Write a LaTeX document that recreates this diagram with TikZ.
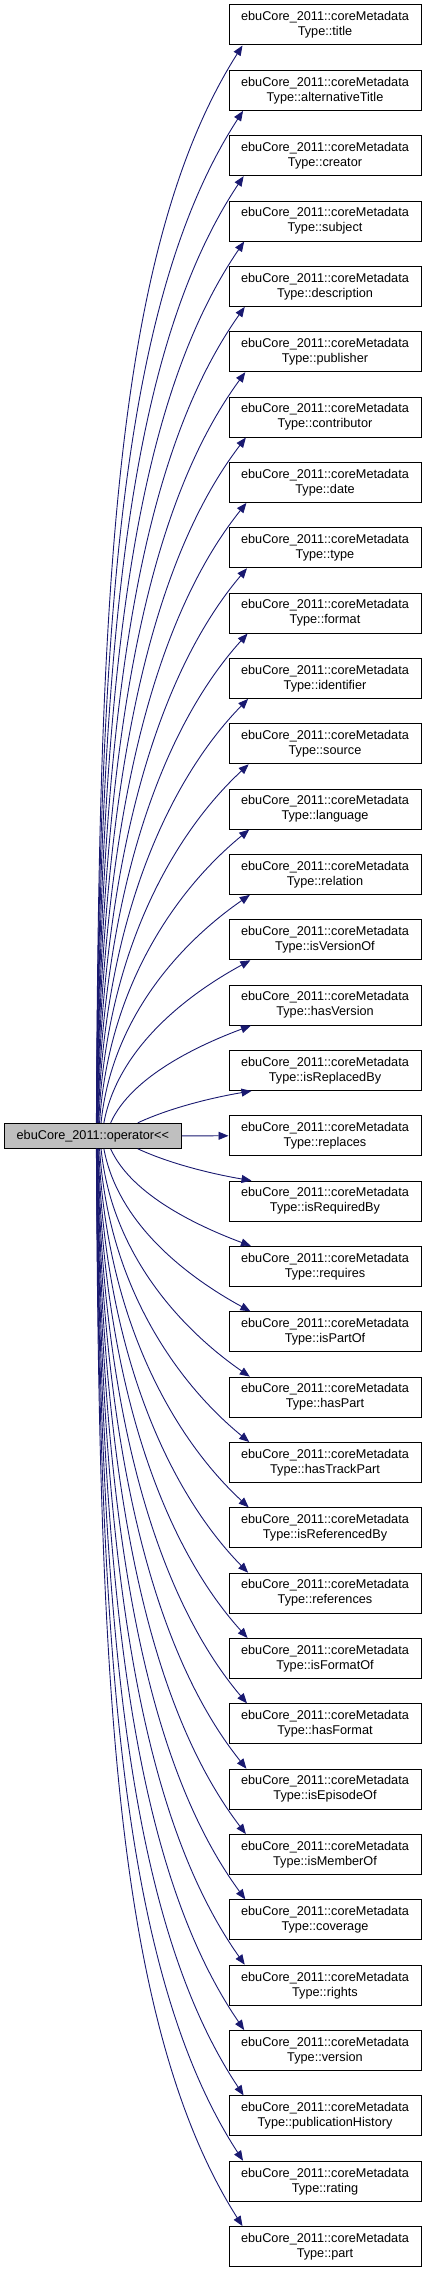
\documentclass[tikz,border=0pt]{standalone}
\usepackage{fontspec}
\setmainfont{Liberation Sans}
\usetikzlibrary{arrows.meta}
\definecolor{edgecolor}{HTML}{191970}
\definecolor{opfill}{HTML}{BFBFBF}
\def\pitch{65.34}
\def\mx{325}

\begin{document}
\begin{tikzpicture}[
    x=1pt, y=-1pt,
    every node/.style={font=\fontsize{12.7}{15}\selectfont, align=center, inner sep=0pt},
    member/.style={draw=black, line width=1pt, fill=white,
                   minimum width=192pt, minimum height=40pt},
    opnode/.style={draw=black, line width=1pt, fill=opfill,
                   minimum width=177pt, minimum height=25pt},
    call/.style={draw=edgecolor, line width=0.9pt, -{Triangle[length=10pt, width=8pt]}},
]
\useasboundingbox (0,0) rectangle (427,2272);

% ---------------------------------------------------------- the operator
\node[opnode] (op) at (92.8, 1135.8)
    {ebuCore\_2011::operator\textless\kern0pt\textless};

% ---------------------------------------------------------- the members
\foreach \name [count=\c from 0] in {title, alternativeTitle, creator, subject,
    description, publisher, contributor, date, type, format, identifier, source,
    language, relation, isVersionOf, hasVersion, isReplacedBy, replaces,
    isRequiredBy, requires, isPartOf, hasPart, hasTrackPart, isReferencedBy,
    references, isFormatOf, hasFormat, isEpisodeOf, isMemberOf, coverage, rights,
    version, publicationHistory, rating, part} {
  \node[member] (m\c) at (\mx, {25+\c*\pitch})
      {ebuCore\_2011::coreMetadata\\Type::\name};
}

% ---------------------------------------------------------- calls
\foreach \c in {0,...,34} {
  \pgfmathtruncatemacro{\k}{\c-17}
  \ifnum\k=0
    \draw[call] (op.east) -- (m\c.west);
  \else
    \pgfmathsetmacro{\n}{abs(\k)}
    \pgfmathsetmacro{\sg}{\k/\n}
    \pgfmathsetmacro{\dy}{\pitch*\n-32.5}
    \pgfmathsetmacro{\xs}{92+42/pow(\n,1.5)}
    \pgfmathsetmacro{\xe}{23-9*(\n-1)/16}
    \pgfmathsetmacro{\dx}{224.7+\xe-\xs}
    \pgfmathsetmacro{\px}{0.3*\dx/\n}
    \pgfmathsetmacro{\ay}{\sg*0.48*\dy}
    \pgfmathsetmacro{\bx}{0.3*\dx+0.08*\dy}
    \pgfmathsetmacro{\cy}{-\sg*0.19*\dy}
    % upper members hang off the top edge, lower ones off the bottom
    \ifnum\k<0 \def\sa{north west}\def\ta{south west}
    \else \def\sa{south west}\def\ta{north west}\fi
    \draw[call] ([xshift=\xs pt]op.\sa)
        .. controls +(\px, \ay) and +(-\bx, \cy) .. ([xshift=\xe pt]m\c.\ta);
  \fi
}

\end{tikzpicture}
\end{document}
